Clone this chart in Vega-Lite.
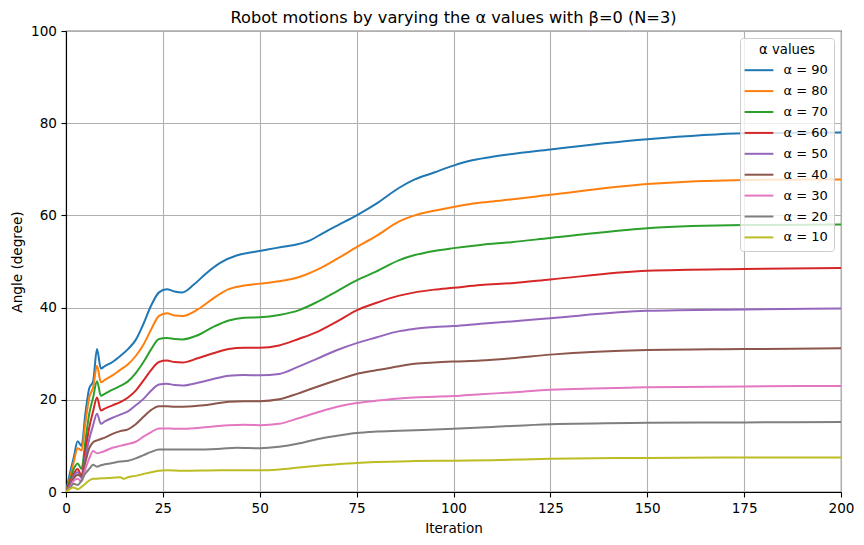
{
  "$schema": "https://vega.github.io/schema/vega-lite/v6.json",
  "width": 775,
  "height": 461,
  "autosize": {"type": "none"},
  "padding": {"left": 66, "top": 31, "right": 23, "bottom": 53},
  "background": "white",
  "title": {"text": "Robot motions by varying the α values with β=0 (N=3)", "font": "DejaVu Sans", "fontSize": 16.2, "fontWeight": "normal", "color": "black", "offset": -2, "anchor": "middle"},
  "config": {
    "font": "DejaVu Sans",
    "view": {"stroke": "black", "strokeWidth": 1.1},
    "axis": {"labelFont": "DejaVu Sans", "labelFontSize": 13.6, "labelColor": "black", "titleFont": "DejaVu Sans", "titleFontSize": 13.6, "titleFontWeight": "normal", "titleColor": "black", "domainColor": "black", "domainWidth": 1.1, "tickColor": "black", "tickSize": 5, "tickWidth": 1.1, "gridColor": "#b0b0b0", "gridWidth": 1.1, "labelPadding": 4.5, "labelFlush": false},
    "legend": {"labelFont": "DejaVu Sans", "titleFont": "DejaVu Sans"}
  },
  "data": {"values": [
    {"s":"α = 90","x":0,"y":0},{"s":"α = 90","x":1,"y":4},{"s":"α = 90","x":2,"y":7.5},{"s":"α = 90","x":3,"y":11},{"s":"α = 90","x":4,"y":10},{"s":"α = 90","x":5,"y":17},{"s":"α = 90","x":6,"y":22.5},{"s":"α = 90","x":7,"y":24},{"s":"α = 90","x":8,"y":31},{"s":"α = 90","x":9,"y":26.8},{"s":"α = 90","x":10,"y":27.3},{"s":"α = 90","x":12,"y":28.2},{"s":"α = 90","x":14,"y":29.5},{"s":"α = 90","x":16,"y":31},{"s":"α = 90","x":18,"y":33},{"s":"α = 90","x":20,"y":36.5},{"s":"α = 90","x":22,"y":40.5},{"s":"α = 90","x":24,"y":43.3},{"s":"α = 90","x":26,"y":44},{"s":"α = 90","x":28,"y":43.5},{"s":"α = 90","x":30,"y":43.3},{"s":"α = 90","x":33,"y":45},{"s":"α = 90","x":36,"y":47.3},{"s":"α = 90","x":40,"y":49.8},{"s":"α = 90","x":44,"y":51.3},{"s":"α = 90","x":48,"y":52},{"s":"α = 90","x":52,"y":52.6},{"s":"α = 90","x":56,"y":53.2},{"s":"α = 90","x":60,"y":53.8},{"s":"α = 90","x":63,"y":54.6},{"s":"α = 90","x":66,"y":56},{"s":"α = 90","x":70,"y":57.8},{"s":"α = 90","x":75,"y":60},{"s":"α = 90","x":80,"y":62.5},{"s":"α = 90","x":86,"y":66},{"s":"α = 90","x":90,"y":67.8},{"s":"α = 90","x":95,"y":69.3},{"s":"α = 90","x":100,"y":70.8},{"s":"α = 90","x":104,"y":71.8},{"s":"α = 90","x":110,"y":72.7},{"s":"α = 90","x":125,"y":74.3},{"s":"α = 90","x":150,"y":76.5},{"s":"α = 90","x":175,"y":77.8},{"s":"α = 90","x":200,"y":78},
    {"s":"α = 80","x":0,"y":0},{"s":"α = 80","x":1,"y":3},{"s":"α = 80","x":2,"y":6.5},{"s":"α = 80","x":3,"y":9.5},{"s":"α = 80","x":4,"y":9},{"s":"α = 80","x":5,"y":15},{"s":"α = 80","x":6,"y":20.5},{"s":"α = 80","x":7,"y":22.7},{"s":"α = 80","x":8,"y":27.4},{"s":"α = 80","x":9,"y":23.8},{"s":"α = 80","x":10,"y":24.3},{"s":"α = 80","x":12,"y":25.3},{"s":"α = 80","x":14,"y":26.5},{"s":"α = 80","x":16,"y":27.7},{"s":"α = 80","x":18,"y":29.5},{"s":"α = 80","x":20,"y":32},{"s":"α = 80","x":22,"y":35.3},{"s":"α = 80","x":24,"y":38.2},{"s":"α = 80","x":26,"y":38.8},{"s":"α = 80","x":28,"y":38.3},{"s":"α = 80","x":30,"y":38.2},{"s":"α = 80","x":34,"y":39.6},{"s":"α = 80","x":38,"y":42},{"s":"α = 80","x":42,"y":44},{"s":"α = 80","x":46,"y":44.8},{"s":"α = 80","x":50,"y":45.2},{"s":"α = 80","x":55,"y":45.7},{"s":"α = 80","x":60,"y":46.6},{"s":"α = 80","x":65,"y":48.3},{"s":"α = 80","x":70,"y":50.6},{"s":"α = 80","x":75,"y":53.1},{"s":"α = 80","x":80,"y":55.5},{"s":"α = 80","x":86,"y":58.7},{"s":"α = 80","x":90,"y":60},{"s":"α = 80","x":95,"y":61},{"s":"α = 80","x":100,"y":61.8},{"s":"α = 80","x":105,"y":62.6},{"s":"α = 80","x":110,"y":63},{"s":"α = 80","x":125,"y":64.5},{"s":"α = 80","x":150,"y":66.8},{"s":"α = 80","x":175,"y":67.7},{"s":"α = 80","x":200,"y":67.8},
    {"s":"α = 70","x":0,"y":0},{"s":"α = 70","x":1,"y":2.5},{"s":"α = 70","x":2,"y":5},{"s":"α = 70","x":3,"y":6.2},{"s":"α = 70","x":4,"y":5},{"s":"α = 70","x":5,"y":11},{"s":"α = 70","x":6,"y":17},{"s":"α = 70","x":7,"y":20.5},{"s":"α = 70","x":8,"y":24},{"s":"α = 70","x":9,"y":20.9},{"s":"α = 70","x":10,"y":21.3},{"s":"α = 70","x":12,"y":22.2},{"s":"α = 70","x":14,"y":23},{"s":"α = 70","x":16,"y":24},{"s":"α = 70","x":18,"y":25.8},{"s":"α = 70","x":20,"y":28.2},{"s":"α = 70","x":22,"y":31},{"s":"α = 70","x":24,"y":33.2},{"s":"α = 70","x":26,"y":33.4},{"s":"α = 70","x":28,"y":33.2},{"s":"α = 70","x":30,"y":33.1},{"s":"α = 70","x":34,"y":34},{"s":"α = 70","x":38,"y":35.8},{"s":"α = 70","x":42,"y":37.2},{"s":"α = 70","x":46,"y":37.8},{"s":"α = 70","x":50,"y":37.9},{"s":"α = 70","x":55,"y":38.4},{"s":"α = 70","x":60,"y":39.4},{"s":"α = 70","x":65,"y":41.3},{"s":"α = 70","x":70,"y":43.6},{"s":"α = 70","x":75,"y":45.9},{"s":"α = 70","x":80,"y":47.8},{"s":"α = 70","x":86,"y":50.3},{"s":"α = 70","x":90,"y":51.4},{"s":"α = 70","x":95,"y":52.3},{"s":"α = 70","x":100,"y":52.9},{"s":"α = 70","x":107,"y":53.6},{"s":"α = 70","x":115,"y":54.2},{"s":"α = 70","x":125,"y":55.1},{"s":"α = 70","x":150,"y":57.2},{"s":"α = 70","x":175,"y":57.9},{"s":"α = 70","x":200,"y":58},
    {"s":"α = 60","x":0,"y":0},{"s":"α = 60","x":1,"y":2},{"s":"α = 60","x":2,"y":4},{"s":"α = 60","x":3,"y":5},{"s":"α = 60","x":4,"y":3.5},{"s":"α = 60","x":5,"y":9},{"s":"α = 60","x":6,"y":14},{"s":"α = 60","x":7,"y":17.5},{"s":"α = 60","x":8,"y":20.5},{"s":"α = 60","x":9,"y":17.7},{"s":"α = 60","x":10,"y":18.1},{"s":"α = 60","x":12,"y":18.8},{"s":"α = 60","x":14,"y":19.5},{"s":"α = 60","x":16,"y":20.5},{"s":"α = 60","x":18,"y":22},{"s":"α = 60","x":20,"y":24.2},{"s":"α = 60","x":22,"y":26.5},{"s":"α = 60","x":24,"y":28.2},{"s":"α = 60","x":26,"y":28.5},{"s":"α = 60","x":28,"y":28.2},{"s":"α = 60","x":30,"y":28.1},{"s":"α = 60","x":34,"y":29},{"s":"α = 60","x":38,"y":30.1},{"s":"α = 60","x":42,"y":31},{"s":"α = 60","x":46,"y":31.3},{"s":"α = 60","x":50,"y":31.3},{"s":"α = 60","x":55,"y":31.8},{"s":"α = 60","x":60,"y":33.2},{"s":"α = 60","x":65,"y":34.8},{"s":"α = 60","x":70,"y":37},{"s":"α = 60","x":75,"y":39.4},{"s":"α = 60","x":80,"y":41},{"s":"α = 60","x":86,"y":42.6},{"s":"α = 60","x":90,"y":43.3},{"s":"α = 60","x":95,"y":43.9},{"s":"α = 60","x":100,"y":44.3},{"s":"α = 60","x":107,"y":44.9},{"s":"α = 60","x":115,"y":45.3},{"s":"α = 60","x":125,"y":46.1},{"s":"α = 60","x":150,"y":48},{"s":"α = 60","x":175,"y":48.4},{"s":"α = 60","x":200,"y":48.6},
    {"s":"α = 50","x":0,"y":0},{"s":"α = 50","x":1,"y":1.5},{"s":"α = 50","x":2,"y":3.5},{"s":"α = 50","x":3,"y":4.3},{"s":"α = 50","x":4,"y":3},{"s":"α = 50","x":5,"y":7.5},{"s":"α = 50","x":6,"y":11.5},{"s":"α = 50","x":7,"y":14.5},{"s":"α = 50","x":8,"y":17},{"s":"α = 50","x":9,"y":14.8},{"s":"α = 50","x":10,"y":15.3},{"s":"α = 50","x":12,"y":16.1},{"s":"α = 50","x":14,"y":16.8},{"s":"α = 50","x":16,"y":17.5},{"s":"α = 50","x":18,"y":18.8},{"s":"α = 50","x":20,"y":20.2},{"s":"α = 50","x":22,"y":22},{"s":"α = 50","x":24,"y":23.3},{"s":"α = 50","x":26,"y":23.5},{"s":"α = 50","x":28,"y":23.2},{"s":"α = 50","x":30,"y":23.1},{"s":"α = 50","x":34,"y":23.7},{"s":"α = 50","x":38,"y":24.5},{"s":"α = 50","x":42,"y":25.2},{"s":"α = 50","x":46,"y":25.4},{"s":"α = 50","x":50,"y":25.3},{"s":"α = 50","x":55,"y":25.6},{"s":"α = 50","x":60,"y":27.2},{"s":"α = 50","x":65,"y":29},{"s":"α = 50","x":70,"y":30.8},{"s":"α = 50","x":75,"y":32.3},{"s":"α = 50","x":80,"y":33.5},{"s":"α = 50","x":86,"y":34.9},{"s":"α = 50","x":90,"y":35.4},{"s":"α = 50","x":95,"y":35.8},{"s":"α = 50","x":100,"y":36},{"s":"α = 50","x":107,"y":36.5},{"s":"α = 50","x":115,"y":37},{"s":"α = 50","x":125,"y":37.7},{"s":"α = 50","x":150,"y":39.3},{"s":"α = 50","x":175,"y":39.6},{"s":"α = 50","x":200,"y":39.8},
    {"s":"α = 40","x":0,"y":0},{"s":"α = 40","x":1,"y":1.2},{"s":"α = 40","x":2,"y":3},{"s":"α = 40","x":3,"y":3.7},{"s":"α = 40","x":4,"y":3.5},{"s":"α = 40","x":5,"y":6.5},{"s":"α = 40","x":6,"y":9.5},{"s":"α = 40","x":7,"y":10.8},{"s":"α = 40","x":8,"y":11.2},{"s":"α = 40","x":9,"y":11.5},{"s":"α = 40","x":10,"y":11.8},{"s":"α = 40","x":12,"y":12.6},{"s":"α = 40","x":14,"y":13.2},{"s":"α = 40","x":16,"y":13.6},{"s":"α = 40","x":18,"y":14.7},{"s":"α = 40","x":20,"y":16.3},{"s":"α = 40","x":22,"y":17.8},{"s":"α = 40","x":24,"y":18.6},{"s":"α = 40","x":26,"y":18.6},{"s":"α = 40","x":28,"y":18.5},{"s":"α = 40","x":30,"y":18.5},{"s":"α = 40","x":34,"y":18.7},{"s":"α = 40","x":38,"y":19.1},{"s":"α = 40","x":42,"y":19.6},{"s":"α = 40","x":46,"y":19.7},{"s":"α = 40","x":50,"y":19.7},{"s":"α = 40","x":55,"y":20.1},{"s":"α = 40","x":60,"y":21.4},{"s":"α = 40","x":65,"y":22.9},{"s":"α = 40","x":70,"y":24.3},{"s":"α = 40","x":75,"y":25.6},{"s":"α = 40","x":80,"y":26.4},{"s":"α = 40","x":86,"y":27.3},{"s":"α = 40","x":90,"y":27.8},{"s":"α = 40","x":95,"y":28.1},{"s":"α = 40","x":100,"y":28.3},{"s":"α = 40","x":107,"y":28.5},{"s":"α = 40","x":115,"y":29},{"s":"α = 40","x":125,"y":29.8},{"s":"α = 40","x":150,"y":30.8},{"s":"α = 40","x":175,"y":31},{"s":"α = 40","x":200,"y":31.2},
    {"s":"α = 30","x":0,"y":0},{"s":"α = 30","x":1,"y":1},{"s":"α = 30","x":2,"y":2.5},{"s":"α = 30","x":3,"y":2.9},{"s":"α = 30","x":4,"y":2.3},{"s":"α = 30","x":5,"y":5},{"s":"α = 30","x":6,"y":7.3},{"s":"α = 30","x":7,"y":8.9},{"s":"α = 30","x":8,"y":8.4},{"s":"α = 30","x":9,"y":8.6},{"s":"α = 30","x":10,"y":8.9},{"s":"α = 30","x":12,"y":9.6},{"s":"α = 30","x":14,"y":10},{"s":"α = 30","x":16,"y":10.4},{"s":"α = 30","x":18,"y":10.9},{"s":"α = 30","x":20,"y":12},{"s":"α = 30","x":22,"y":13},{"s":"α = 30","x":24,"y":13.8},{"s":"α = 30","x":26,"y":13.8},{"s":"α = 30","x":28,"y":13.7},{"s":"α = 30","x":30,"y":13.7},{"s":"α = 30","x":34,"y":13.9},{"s":"α = 30","x":38,"y":14.2},{"s":"α = 30","x":42,"y":14.5},{"s":"α = 30","x":46,"y":14.6},{"s":"α = 30","x":50,"y":14.5},{"s":"α = 30","x":55,"y":14.8},{"s":"α = 30","x":60,"y":16},{"s":"α = 30","x":65,"y":17.3},{"s":"α = 30","x":70,"y":18.5},{"s":"α = 30","x":75,"y":19.3},{"s":"α = 30","x":80,"y":19.8},{"s":"α = 30","x":86,"y":20.3},{"s":"α = 30","x":90,"y":20.5},{"s":"α = 30","x":100,"y":20.8},{"s":"α = 30","x":107,"y":21.2},{"s":"α = 30","x":115,"y":21.6},{"s":"α = 30","x":125,"y":22.2},{"s":"α = 30","x":150,"y":22.7},{"s":"α = 30","x":175,"y":22.9},{"s":"α = 30","x":200,"y":23},
    {"s":"α = 20","x":0,"y":0},{"s":"α = 20","x":1,"y":0.8},{"s":"α = 20","x":2,"y":1.8},{"s":"α = 20","x":3,"y":1.5},{"s":"α = 20","x":4,"y":2.5},{"s":"α = 20","x":5,"y":4},{"s":"α = 20","x":6,"y":5},{"s":"α = 20","x":7,"y":5.9},{"s":"α = 20","x":8,"y":5.5},{"s":"α = 20","x":9,"y":5.8},{"s":"α = 20","x":10,"y":6},{"s":"α = 20","x":12,"y":6.3},{"s":"α = 20","x":14,"y":6.6},{"s":"α = 20","x":16,"y":6.8},{"s":"α = 20","x":18,"y":7.3},{"s":"α = 20","x":20,"y":8},{"s":"α = 20","x":22,"y":8.7},{"s":"α = 20","x":24,"y":9.2},{"s":"α = 20","x":26,"y":9.2},{"s":"α = 20","x":30,"y":9.2},{"s":"α = 20","x":34,"y":9.2},{"s":"α = 20","x":40,"y":9.4},{"s":"α = 20","x":44,"y":9.6},{"s":"α = 20","x":50,"y":9.5},{"s":"α = 20","x":55,"y":9.8},{"s":"α = 20","x":60,"y":10.5},{"s":"α = 20","x":65,"y":11.5},{"s":"α = 20","x":70,"y":12.2},{"s":"α = 20","x":75,"y":12.8},{"s":"α = 20","x":80,"y":13.1},{"s":"α = 20","x":86,"y":13.3},{"s":"α = 20","x":100,"y":13.7},{"s":"α = 20","x":110,"y":14.1},{"s":"α = 20","x":125,"y":14.7},{"s":"α = 20","x":150,"y":15},{"s":"α = 20","x":175,"y":15.1},{"s":"α = 20","x":200,"y":15.2},
    {"s":"α = 10","x":0,"y":0},{"s":"α = 10","x":1,"y":0.7},{"s":"α = 10","x":2,"y":1},{"s":"α = 10","x":3,"y":0.6},{"s":"α = 10","x":4,"y":1.1},{"s":"α = 10","x":5,"y":1.8},{"s":"α = 10","x":6,"y":2.5},{"s":"α = 10","x":7,"y":2.9},{"s":"α = 10","x":8,"y":2.9},{"s":"α = 10","x":10,"y":3},{"s":"α = 10","x":12,"y":3.1},{"s":"α = 10","x":14,"y":3.2},{"s":"α = 10","x":15,"y":2.85},{"s":"α = 10","x":16,"y":3.2},{"s":"α = 10","x":18,"y":3.5},{"s":"α = 10","x":20,"y":3.9},{"s":"α = 10","x":22,"y":4.3},{"s":"α = 10","x":24,"y":4.6},{"s":"α = 10","x":26,"y":4.7},{"s":"α = 10","x":30,"y":4.6},{"s":"α = 10","x":40,"y":4.7},{"s":"α = 10","x":50,"y":4.7},{"s":"α = 10","x":55,"y":4.9},{"s":"α = 10","x":60,"y":5.3},{"s":"α = 10","x":65,"y":5.7},{"s":"α = 10","x":70,"y":6},{"s":"α = 10","x":75,"y":6.3},{"s":"α = 10","x":80,"y":6.5},{"s":"α = 10","x":90,"y":6.7},{"s":"α = 10","x":100,"y":6.8},{"s":"α = 10","x":110,"y":6.9},{"s":"α = 10","x":125,"y":7.2},{"s":"α = 10","x":150,"y":7.4},{"s":"α = 10","x":175,"y":7.5},{"s":"α = 10","x":200,"y":7.5}
  ]},
  "mark": {"type": "line", "strokeWidth": 2, "interpolate": "monotone", "clip": true},
  "encoding": {
    "x": {"field": "x", "type": "quantitative", "title": "Iteration", "scale": {"domain": [0, 200], "nice": false, "zero": false}, "axis": {"values": [0, 25, 50, 75, 100, 125, 150, 175, 200], "grid": true, "titlePadding": 6}},
    "y": {"field": "y", "type": "quantitative", "title": "Angle (degree)", "scale": {"domain": [0, 100], "nice": false}, "axis": {"values": [0, 20, 40, 60, 80, 100], "grid": true, "titlePadding": 6}},
    "color": {"field": "s", "type": "nominal", "title": "α values",
      "scale": {"domain": ["α = 90", "α = 80", "α = 70", "α = 60", "α = 50", "α = 40", "α = 30", "α = 20", "α = 10"],
                "range": ["#1f77b4", "#ff7f0e", "#2ca02c", "#d62728", "#9467bd", "#8c564b", "#e377c2", "#7f7f7f", "#bcbd22"]},
      "legend": {"orient": "top-right", "offset": 7, "symbolType": "M-1.3,0H2.3", "symbolSize": 256, "symbolStrokeWidth": 2, "labelFontSize": 13, "labelColor": "black", "titleFontSize": 13.2, "titleFontWeight": "normal", "titleColor": "black", "titleAnchor": "middle", "padding": 6, "rowPadding": 4.9, "labelOffset": 19.5, "titlePadding": 4, "strokeColor": "#cccccc", "fillColor": "rgba(255,255,255,0.8)", "cornerRadius": 3}
    }
  }
}
